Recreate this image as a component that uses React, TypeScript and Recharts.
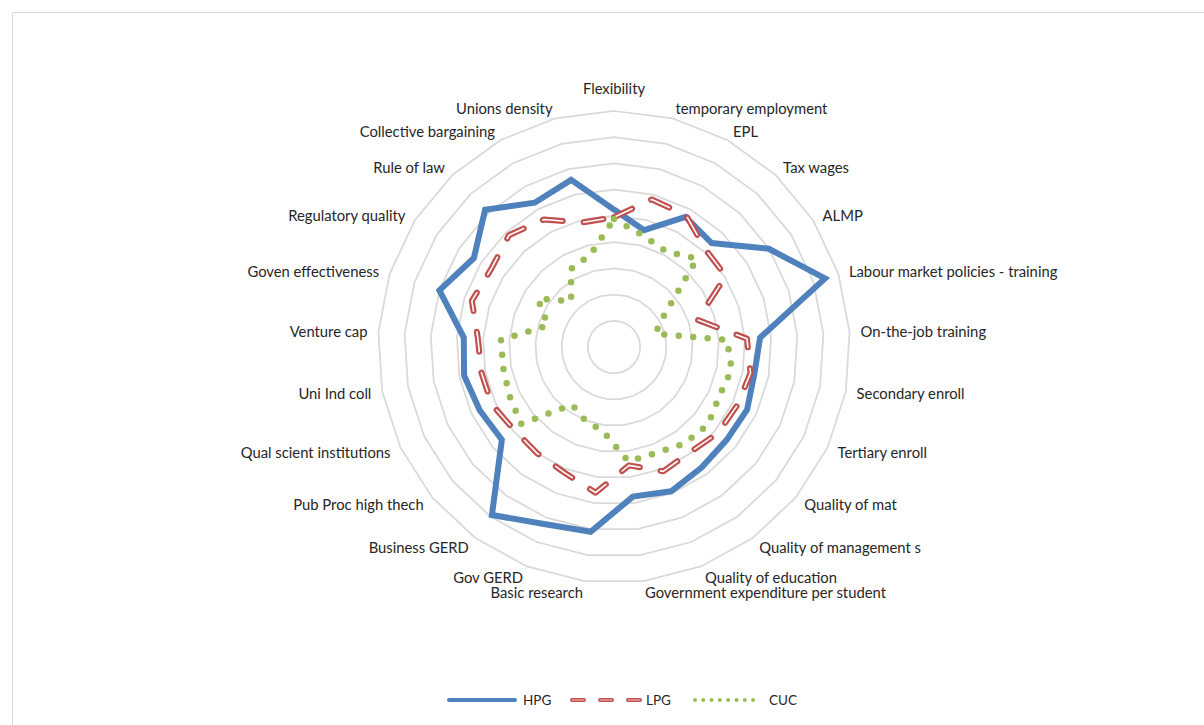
import {
  RadarChart,
  Radar,
  PolarGrid,
  PolarAngleAxis,
  PolarRadiusAxis,
  Legend,
} from "recharts";

const categories = [
  "Flexibility",
  "temporary employment",
  "EPL",
  "Tax wages",
  "ALMP",
  "Labour market policies - training",
  "On-the-job training",
  "Secondary enroll",
  "Tertiary enroll",
  "Quality of mat",
  "Quality of management s",
  "Quality of education",
  "Government expenditure per student",
  "Basic research",
  "Gov GERD",
  "Business GERD",
  "Pub Proc high thech",
  "Qual scient institutions",
  "Uni Ind coll",
  "Venture cap",
  "Goven effectiveness",
  "Regulatory quality",
  "Rule of law",
  "Collective bargaining",
  "Unions density",
];

const hpg = [
  5.24, 4.6, 5.66, 5.44, 6.99, 8.46, 5.58, 5.45, 5.61, 5.57, 5.68, 5.92, 5.75,
  7.1, 7.26, 7.92, 5.55, 5.66, 5.82, 5.74, 7.0, 6.33, 7.18, 6.28, 6.58,
];
const lpg = [
  4.95, 5.81, 5.72, 5.1, 5.05, 3.35, 5.08, 5.3, 5.2, 5.15, 4.95, 5.1, 4.55,
  5.6, 5.15, 5.0, 4.95, 5.15, 5.15, 5.2, 5.7, 5.55, 5.85, 5.55, 4.9,
];
const cuc = [
  4.88, 4.4, 4.15, 4.63, 2.27, 1.65, 4.32, 4.57, 4.43, 4.65, 4.55, 4.35, 4.4,
  3.25, 3.0, 2.72, 4.6, 4.4, 4.3, 4.32, 2.65, 3.44, 2.39, 3.4, 3.63,
];

const seriesOrder = ["HPG", "LPG", "CUC"];

const data = categories.map((name, i) => ({
  name,
  HPG: hpg[i],
  LPG: lpg[i],
  CUC: cuc[i],
}));

const FONT = "Lato, 'Open Sans', sans-serif";
const CX = 601;
const CY = 334;

const BLUE = "#4F81BD";
const RED = "#C0504D";
const GREEN = "#9BBB59";

const AngleTick = ({ x, y, payload }: any) => {
  const dx = x - CX;
  const dy = CY - y;
  let anchor = "middle";
  if (dx > 5) anchor = "start";
  else if (dx < -5) anchor = "end";
  // the label straight on top sits a bit higher, like excel does it
  const shift = anchor === "middle" ? (dy > 0 ? -12 : 12) : 0;
  return (
    <text
      x={x}
      y={y + shift}
      textAnchor={anchor}
      dominantBaseline="central"
      fontSize={14.8}
      fontFamily={FONT}
      fill="#262626"
    >
      {payload.value}
    </text>
  );
};

const renderLegend = (props: any) => {
  const items = (props.payload || [])
    .filter((p: any) => seriesOrder.includes(p.value))
    .sort((a: any, b: any) => seriesOrder.indexOf(a.value) - seriesOrder.indexOf(b.value));
  return (
    <svg width={380} height={20}>
      {items.map((item: any, i: number) => {
        const x0 = i * 123;
        let icon;
        if (item.value === "HPG") {
          icon = (
            <line x1={x0 + 2} y1={10} x2={x0 + 68} y2={10} stroke={BLUE}
              strokeWidth={4} strokeLinecap="round" />
          );
        } else if (item.value === "LPG") {
          icon = (
            <g>
              <line x1={x0 + 2} y1={10} x2={x0 + 70} y2={10} stroke={RED}
                strokeWidth={4} strokeLinecap="round" strokeDasharray="12 16" />
              <line x1={x0 + 2} y1={10} x2={x0 + 70} y2={10} stroke="#f2c4c3"
                strokeWidth={1.2} strokeLinecap="round" strokeDasharray="12 16" />
            </g>
          );
        } else {
          icon = (
            <line x1={x0 + 2} y1={10} x2={x0 + 68} y2={10} stroke={GREEN}
              strokeWidth={4} strokeLinecap="round" strokeDasharray="0 8.3" />
          );
        }
        return (
          <g key={item.value}>
            {icon}
            <text x={x0 + 76} y={10} dominantBaseline="central" fontSize={13.5}
              fontFamily={FONT} fill="#262626">
              {item.value}
            </text>
          </g>
        );
      })}
    </svg>
  );
};

export default function App() {
  return (
    <div
      style={{
        position: "fixed",
        left: 0,
        top: 0,
        width: 1204,
        height: 725,
        overflow: "hidden",
        background: "#fff",
      }}
    >
      <div
        style={{
          position: "absolute",
          left: 12,
          top: 12,
          width: 1200,
          height: 720,
          border: "1px solid #d9d9d9",
          boxSizing: "border-box",
        }}
      >
        <RadarChart
          width={1198}
          height={718}
          data={data}
          cx={CX}
          cy={CY}
          outerRadius={236}
          margin={{ top: 0, right: 0, bottom: 0, left: 0 }}
        >
          <PolarGrid gridType="polygon" radialLines={false} stroke="#d9d9d9" strokeWidth={1.75} />
          <PolarAngleAxis
            dataKey="name"
            tick={<AngleTick />}
            tickLine={false}
            axisLine={false}
            tickSize={11}
          />
          <PolarRadiusAxis domain={[0, 9]} tickCount={10} tick={false} axisLine={false} />
          <Radar
            name="HPG"
            dataKey="HPG"
            stroke={BLUE}
            strokeWidth={6}
            strokeLinejoin="miter"
            strokeMiterlimit={3}
            fill="none"
            fillOpacity={0}
            dot={false}
            isAnimationActive={false}
          />
          <Radar
            name="LPG"
            dataKey="LPG"
            stroke={RED}
            strokeWidth={6}
            strokeDasharray="20 21"
            strokeLinecap="round"
            strokeLinejoin="round"
            fill="none"
            fillOpacity={0}
            dot={false}
            isAnimationActive={false}
          />
          <Radar
            name="LPG inner"
            dataKey="LPG"
            stroke="#ffffff"
            strokeWidth={1.6}
            strokeDasharray="20 21"
            strokeLinecap="round"
            strokeLinejoin="round"
            fill="none"
            fillOpacity={0}
            dot={false}
            legendType="none"
            isAnimationActive={false}
          />
          <Radar
            name="CUC"
            dataKey="CUC"
            stroke={GREEN}
            strokeWidth={6.5}
            strokeDasharray="0 14.5"
            strokeLinecap="round"
            fill="none"
            fillOpacity={0}
            dot={false}
            isAnimationActive={false}
          />
          <Legend
            content={renderLegend}
            wrapperStyle={{ position: "absolute", left: 434, top: 677, width: 380, height: 20 }}
          />
        </RadarChart>
      </div>
    </div>
  );
}
